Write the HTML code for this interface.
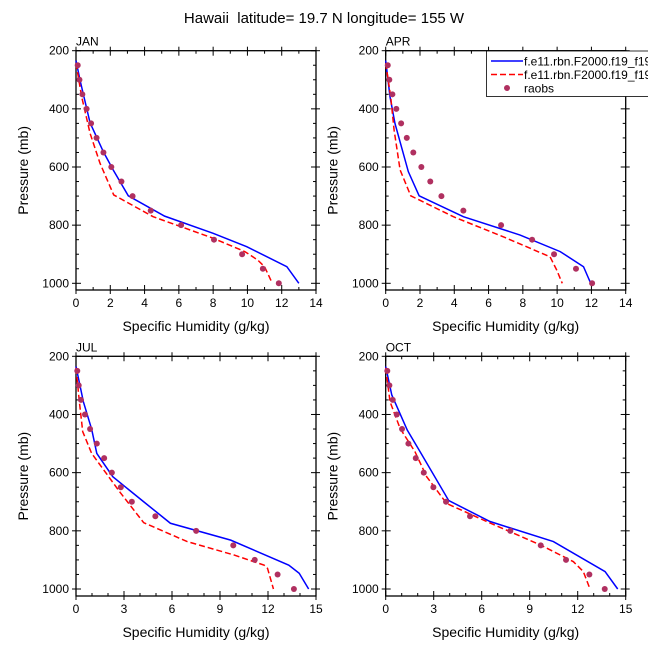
<!DOCTYPE html>
<html><head><meta charset="utf-8"><style>
body{margin:0;background:#fff}
svg{display:block;font-family:"Liberation Sans",sans-serif}
</style></head><body>
<svg id="c" width="648" height="649" viewBox="0 0 648 649">
<text x="324" y="23" text-anchor="middle" font-size="15">Hawaii&#160; latitude= 19.7 N longitude= 155 W</text>
</svg>
<script>
const months = ["JAN","APR","JUL","OCT"];
const xMaxes = [14,14,15,15];
const xMajorSteps = [2,2,3,3];
const yTicks = [200,400,600,800,1000];
const obsP = [250,300,350,400,450,500,550,600,650,700,750,800,850,900,950,1000];
const obsJAN = [0.1,0.2,0.37,0.62,0.88,1.2,1.6,2.06,2.65,3.3,4.36,6.13,8.05,9.69,10.9,11.83];
const obsAPR = [0.12,0.21,0.39,0.62,0.9,1.23,1.61,2.08,2.6,3.25,4.53,6.73,8.54,9.82,11.1,12.04];
const obsJUL = [0.08,0.17,0.31,0.56,0.88,1.3,1.76,2.24,2.8,3.49,4.96,7.51,9.83,11.17,12.6,13.62];
const obsOCT = [0.1,0.23,0.44,0.69,1.02,1.42,1.88,2.38,2.98,3.77,5.27,7.79,9.69,11.27,12.73,13.69];
const blueP_JAN = [234,300,448,548,611,699,769,828,874,943,1000];
const blueQ_JAN = [0,0.23,0.82,1.6,2.18,3.05,5.17,8.0,9.96,12.3,13.0];
const redP_JAN = [243,358,484,587,696,771,845,891,920,943,1000];
const redQ_JAN = [0,0.33,0.82,1.4,2.2,4.5,8.0,9.85,10.6,11.0,11.45];
const blueP_APR = [234,358,450,616,699,771,834,891,943,977,1000];
const blueQ_APR = [0,0.25,0.54,1.32,1.95,4.53,7.84,10.18,11.54,11.79,11.96];
const redP_APR = [243,358,473,610,699,771,845,909,955,1000];
const redQ_APR = [0,0.29,0.49,0.84,1.46,3.95,7.06,9.59,9.98,10.3];
const blueP_JUL = [235,356,451,534,614,700,774,832,918,946,1000];
const blueQ_JUL = [0,0.46,0.98,1.3,2.3,4.23,5.9,9.67,13.3,13.95,14.54];
const redP_JUL = [240,356,459,534,668,772,837,883,918,929,1000];
const redQ_JUL = [0,0.21,0.42,0.98,2.76,4.23,6.95,9.87,11.76,11.97,12.34];
const blueP_OCT = [235,333,454,528,696,768,837,940,1000];
const blueQ_OCT = [0,0.38,1.35,2.15,3.94,6.52,10.48,13.71,14.5];
const redP_OCT = [240,356,448,528,614,706,768,848,906,940,1000];
const redQ_OCT = [0,0.27,0.9,1.83,2.56,3.81,6.31,9.65,11.73,12.35,12.77];

const obsAll=[obsJAN,obsAPR,obsJUL,obsOCT];
const blueAll=[[blueP_JAN,blueQ_JAN],[blueP_APR,blueQ_APR],[blueP_JUL,blueQ_JUL],[blueP_OCT,blueQ_OCT]];
const redAll=[[redP_JAN,redQ_JAN],[redP_APR,redQ_APR],[redP_JUL,redQ_JUL],[redP_OCT,redQ_OCT]];
const svg=document.getElementById('c');
const NS='http://www.w3.org/2000/svg';
function mk(t,a,parent){const e=document.createElementNS(NS,t);for(const k in a)e.setAttribute(k,a[k]);(parent||svg).appendChild(e);return e;}
const boxes=[{l:76,t:50.7,y1000:283.3,b:290},{l:385.7,t:50.7,y1000:283.3,b:290},{l:76,t:356.3,y1000:589,b:596},{l:385.7,t:356.3,y1000:589,b:596}];
months.forEach((m,i)=>{
  const B=boxes[i],W=240,r=B.l+W;
  const g=mk('g',{});
  
  
  const X=v=>B.l+v/xMaxes[i]*W;
  const Y=p=>B.t+(p-200)/800*(B.y1000-B.t);
  const fr=mk('rect',{x:B.l,y:B.t,width:W,height:B.b-B.t,fill:'none',stroke:'#000','stroke-width':1.3},g);
  
  
  const lab=mk('text',{x:B.l,y:B.t-5,'font-size':12},g);lab.textContent=m;
  
  
  for(let p=200;p<=1000;p+=50){const y=Y(p);const maj=p%200==0;
    if(maj){mk('line',{x1:B.l-4,x2:B.l+5,y1:y,y2:y,stroke:'#000'},g);mk('line',{x1:r-5,x2:r+4,y1:y,y2:y,stroke:'#000'},g);}
    else{mk('line',{x1:B.l,x2:B.l+3,y1:y,y2:y,stroke:'#000'},g);mk('line',{x1:r-3,x2:r,y1:y,y2:y,stroke:'#000'},g);}
  }
  yTicks.forEach(p=>{const t=mk('text',{x:B.l-7,y:Y(p)+4,'font-size':12,'text-anchor':'end'},g);t.textContent=p;
    
    });
  for(let v=0;v<=xMaxes[i];v++){const x=X(v);const maj=v%xMajorSteps[i]==0;
    if(maj){mk('line',{x1:x,x2:x,y1:B.b+4,y2:B.b-5,stroke:'#000'},g);mk('line',{x1:x,x2:x,y1:B.t-4,y2:B.t+5,stroke:'#000'},g);
      const t=mk('text',{x:x,y:B.b+17,'font-size':12,'text-anchor':'middle'},g);t.textContent=v;
      
      }
    else{mk('line',{x1:x,x2:x,y1:B.b,y2:B.b-3,stroke:'#000'},g);mk('line',{x1:x,x2:x,y1:B.t,y2:B.t+3,stroke:'#000'},g);}
  }
  const xt=mk('text',{x:B.l+W/2,y:B.b+41,'font-size':14,'text-anchor':'middle'},g);xt.textContent='Specific Humidity (g/kg)';
  
  
  const yc=(B.t+B.b)/2, yx=B.l-48;
  const yt=mk('text',{x:yx,y:yc,'font-size':14,'text-anchor':'middle',transform:`rotate(-90 ${yx} ${yc})`},g);yt.textContent='Pressure (mb)';
  
  
  const [bp,bq]=blueAll[i];
  const bl=mk('polyline',{points:bp.map((p,k)=>X(bq[k])+','+Y(p)).join(' '),fill:'none',stroke:'#0000ff','stroke-width':1.5},g);
  
  
  const [rp,rq]=redAll[i];
  const rl=mk('polyline',{points:rp.map((p,k)=>X(rq[k])+','+Y(p)).join(' '),fill:'none',stroke:'#ff0000','stroke-width':1.5,'stroke-dasharray':'6,3'},g);
  
  
  obsAll[i].forEach((q,k)=>{const c=mk('circle',{cx:X(q),cy:Y(obsP[k]),r:3,fill:'#b03060'},g);
    
    });
});
const lg=mk('g',{});


mk('rect',{x:486.5,y:51,width:170,height:45.5,fill:'#fff',stroke:'#000','stroke-width':0.8},lg);
mk('line',{x1:491,x2:523,y1:61,y2:61,stroke:'#0000ff','stroke-width':1.5},lg);
mk('line',{x1:491,x2:523,y1:74.5,y2:74.5,stroke:'#ff0000','stroke-width':1.5,'stroke-dasharray':'6,3'},lg);
mk('circle',{cx:507,cy:88,r:3,fill:'#b03060'},lg);
[['f.e11.rbn.F2000.f19_f19',65.5],['f.e11.rbn.F2000.f19_f19',79],['raobs',92.5]].forEach((d,k)=>{
  const t=mk('text',{x:524,y:d[1],'font-size':12},lg);t.textContent=d[0];
  
  });
</script>
</body></html>
